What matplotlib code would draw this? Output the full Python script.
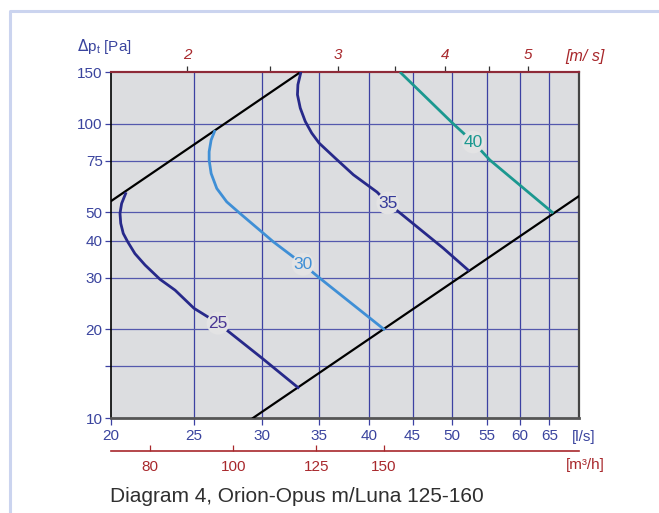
import numpy as np
import matplotlib
matplotlib.use("Agg")
import matplotlib.pyplot as plt
from matplotlib.ticker import FixedLocator, NullLocator, FixedFormatter
from matplotlib.lines import Line2D

plt.rcParams['font.family'] = ['Liberation Sans', 'DejaVu Sans']

# ── Data (flow in l/s, total pressure in Pa) ─────────────────────────────────
q25 = [20.83, 20.58, 20.49, 20.53, 20.67, 20.92, 21.33, 21.92, 22.82, 23.76, 25.0, 26.67, 30.0, 33.17]
p25 = [58.5, 53.6, 49.6, 45.9, 42.4, 39.7, 36.2, 33.1, 29.6, 27.2, 23.6, 21.0, 16.0, 12.6]

q30 = [26.46, 26.18, 26.04, 26.04, 26.18, 26.58, 27.30, 28.29, 30.0, 30.95, 33.52, 35.0, 41.78]
p30 = [95.2, 88.1, 80.4, 75.3, 67.8, 60.3, 54.3, 49.6, 42.9, 39.7, 33.3, 30.0, 19.9]

q35 = [33.33, 33.06, 33.02, 33.27, 33.72, 34.31, 35.0, 36.54, 38.38, 40.9, 42.1, 48.86, 52.4]
p35 = [150, 135.8, 125.6, 113.1, 101.9, 93.0, 86.0, 76.5, 67.1, 58.6, 53.8, 37.8, 31.6]

q40 = [43.5, 50.2, 52.96, 55.4, 65.7]
p40 = [150, 100, 86.7, 75.3, 49.7]

# limit lines (system curves)
q_upper = [20.0, 33.3]
p_upper = [54.6, 150]
q_lower = [29.3, 70.4]
p_lower = [10.0, 56.8]

# sound level labels: text, index of the point on its curve
levels = ['25', '30', '35', '40']
label_idx = [11, 10, 10, 2]

x_ticks = [20, 25, 30, 35, 40, 45, 50, 55, 60, 65]
y_ticks = [10, 15, 20, 30, 40, 50, 75, 100, 150]
y_labels = ['10', '', '20', '30', '40', '50', '75', '100', '150']
ms_ticks = [2, 2.5, 3, 3.5, 4, 4.5, 5]
ms_labels = ['2', '', '3', '', '4', '', '5']
m3h_ticks = [80, 100, 125, 150]

AREA = np.pi * 0.0625 ** 2   # duct 125 mm

# ── Colours ──────────────────────────────────────────────────────────────────
BLUE_TXT = '#3a449e'
GRID = '#3c41a2'
RED = '#a8282c'
NAVY = '#27298a'
LIGHT = '#3f8fd6'
TEAL = '#1b9890'
BG = '#dcdde0'

fig = plt.figure(figsize=(6.59, 5.13), dpi=100)
ax = fig.add_axes([111 / 659, 1 - 418 / 513, 468 / 659, 346 / 513])
ax.set_facecolor(BG)
ax.set_xscale('log')
ax.set_yscale('log')
ax.set_xlim(20, 70.4)
ax.set_ylim(10, 150)

# grid
for x in x_ticks[1:]:
    ax.axvline(x, color=GRID, lw=0.9, zorder=1)
for y in y_ticks[1:-1]:
    ax.axhline(y, color='#5458ad', lw=0.9, zorder=1)

# limit lines
ax.plot(q_upper, p_upper, color='black', lw=1.6, zorder=3)
ax.plot(q_lower, p_lower, color='black', lw=1.6, zorder=3)

# sound level curves
curves = [(q25, p25, NAVY, '#4a3794'), (q30, p30, LIGHT, LIGHT),
          (q35, p35, NAVY, '#353a9a'), (q40, p40, TEAL, TEAL)]
for (q, p, c, tc), lev, i in zip(curves, levels, label_idx):
    ax.plot(q, p, color=c, lw=2.0, zorder=4, solid_capstyle='butt',
            solid_joinstyle='round')
    ax.text(q[i], p[i], lev, color=tc, fontsize=12.5, ha='center', va='center', zorder=5,
            bbox=dict(boxstyle='circle,pad=0.1', fc='#e3e3e4', ec='none'))

# axes ticks
ax.xaxis.set_major_locator(FixedLocator(x_ticks))
ax.xaxis.set_major_formatter(FixedFormatter([str(v) for v in x_ticks]))
ax.xaxis.set_minor_locator(NullLocator())
ax.yaxis.set_major_locator(FixedLocator(y_ticks))
ax.yaxis.set_major_formatter(FixedFormatter(y_labels))
ax.yaxis.set_minor_locator(NullLocator())
ax.tick_params(axis='x', direction='out', length=5, width=0.9, color=GRID,
               labelcolor=BLUE_TXT, labelsize=11, pad=3)
ax.tick_params(axis='y', direction='out', length=4, width=0.9, color=GRID,
               labelcolor=BLUE_TXT, labelsize=11, pad=2)

ax.spines['left'].set_color('black')
ax.spines['left'].set_linewidth(1.2)
ax.spines['bottom'].set_color('#555555')
ax.spines['bottom'].set_linewidth(2.0)
ax.spines['right'].set_color('#444444')
ax.spines['right'].set_linewidth(1.6)
ax.spines['top'].set_color('#8e2a38')
ax.spines['top'].set_linewidth(1.5)

# top axis: air velocity
top = ax.secondary_xaxis('top', functions=(lambda q: q / 1000 / AREA,
                                           lambda v: v * AREA * 1000))
top.xaxis.set_major_locator(FixedLocator(ms_ticks))
top.xaxis.set_major_formatter(FixedFormatter(ms_labels))
top.xaxis.set_minor_locator(NullLocator())
top.tick_params(direction='out', length=4, width=0.9, color='#333333',
                labelcolor=RED, labelsize=11, pad=3)
for t in top.get_xticklabels():
    t.set_fontstyle('italic')
top.spines['top'].set_color('#8e2a38')
top.spines['top'].set_linewidth(1.5)

# bottom secondary axis: m3/h
bot = ax.secondary_xaxis(-0.096, functions=(lambda q: q * 3.6, lambda m: m / 3.6))
bot.xaxis.set_major_locator(FixedLocator(m3h_ticks))
bot.xaxis.set_major_formatter(FixedFormatter([str(v) for v in m3h_ticks]))
bot.xaxis.set_minor_locator(NullLocator())
bot.tick_params(direction='in', length=4, width=0.9, color=RED,
                labelcolor=RED, labelsize=11, pad=6)
bot.spines['bottom'].set_color(RED)
bot.spines['bottom'].set_linewidth(1.2)

# unit labels
fig.text(572 / 659, 1 - 437 / 513, '[l/s]', color=BLUE_TXT, fontsize=11, va='center')
fig.text(566 / 659, 1 - 465 / 513, '[m³/h]', color=RED, fontsize=11, va='center')
fig.text(565 / 659, 1 - 57 / 513, '[m/ s]', color=RED, fontsize=11.5, va='center',
         style='italic')
fig.text(77 / 659, 1 - 47 / 513, r'$\Delta\mathregular{p_t}$ [Pa]', color=BLUE_TXT,
         fontsize=11, va='center')

fig.text(110 / 659, 1 - 497 / 513, 'Diagram 4, Orion-Opus m/Luna 125-160',
         color='#2f2f2f', fontsize=15, va='center')

# page frame
fig.add_artist(Line2D([10 / 659, 10 / 659, 1.0], [0.0, 1 - 11 / 513, 1 - 11 / 513],
                      transform=fig.transFigure, color='#cbd4ef', lw=2.2))

fig.savefig('out.png', dpi=100)
